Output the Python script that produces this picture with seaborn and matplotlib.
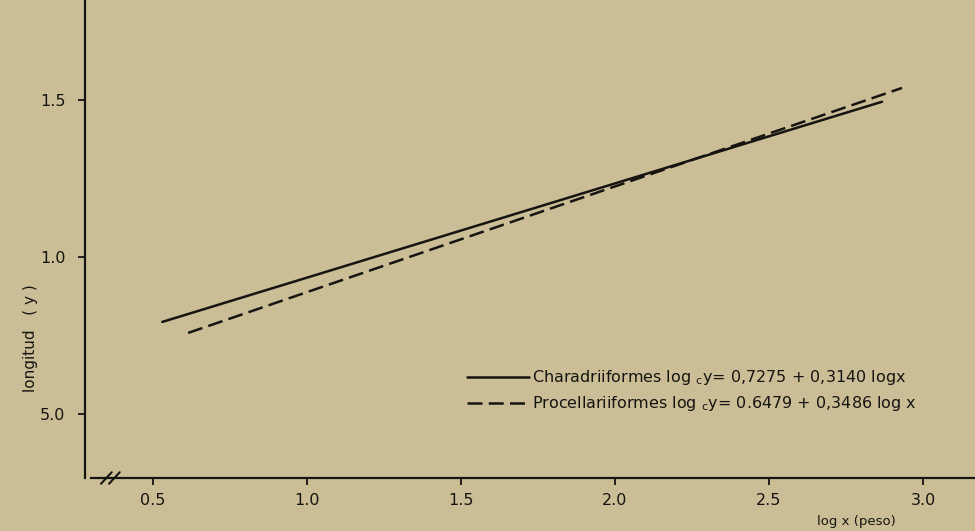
import matplotlib
matplotlib.use("Agg")
import matplotlib.pyplot as plt
import pandas as pd
import seaborn as sns

# endpoints of the two fitted lines
chara_x = [0.53, 2.867]
chara_y = [0.793, 1.494]
proce_x = [0.614, 2.932]
proce_y = [0.758, 1.538]

x_ticks = [0.5, 1.0, 1.5, 2.0, 2.5, 3.0]
x_labels = ["0.5", "1.0", "1.5", "2.0", "2.5", "3.0"]
y_ticks = [0.5, 1.0, 1.5]
y_labels = ["5.0", "1.0", "1.5"]

chara_label = "Charadriiformes log $_{\\mathregular{c}}$y= 0,7275 + 0,3140 logx"
proce_label = "Procellariiformes log $_{\\mathregular{c}}$y= 0.6479 + 0,3486 log x"

PAPER = "#cbbe97"
INK = "#151410"

sns.set_style("ticks")
plt.rcParams["font.family"] = ["DejaVu Sans"]

chara = pd.DataFrame({"x": chara_x, "y": chara_y})
proce = pd.DataFrame({"x": proce_x, "y": proce_y})

fig = plt.figure(figsize=(9.75, 5.31), dpi=100, facecolor=PAPER)
ax = fig.add_axes([85 / 975, 1 - 478 / 531, 890 / 975, 478 / 531])
ax.set_facecolor(PAPER)

sns.lineplot(data=chara, x="x", y="y", ax=ax, color=INK, linewidth=1.8,
             label=chara_label)
sns.lineplot(data=proce, x="x", y="y", ax=ax, color=INK, linewidth=1.8,
             linestyle=(0, (6, 2.5)), label=proce_label)

ax.set_xlim(0.279, 3.169)
ax.set_ylim(0.296, 1.818)
ax.set_xticks(x_ticks, x_labels)
ax.set_yticks(y_ticks, y_labels)
ax.tick_params(axis="both", colors=INK, labelsize=11.5, length=5, width=1.3,
               pad=6)
ax.tick_params(axis="y", pad=9)
ax.set_xlabel("")
ax.set_ylabel("")

for side in ["top", "right"]:
    ax.spines[side].set_visible(False)
for side in ["left", "bottom"]:
    ax.spines[side].set_color(INK)
    ax.spines[side].set_linewidth(1.6)
ax.spines["bottom"].set_bounds(0.297, 3.169)

# axis break marks
for dx in (0.0, 0.009):
    ax.plot([0.018 + dx, 0.03 + dx], [-0.012, 0.012], transform=ax.transAxes,
            color=INK, linewidth=1.5, clip_on=False)

leg = ax.legend(loc="upper left", bbox_to_anchor=(0.413, 0.26),
                frameon=False, handlelength=3.9, handletextpad=0.15,
                fontsize=11.5, labelspacing=0.45)
for t in leg.get_texts():
    t.set_color(INK)

fig.text(30 / 975, 1 - 338 / 531, "longitud   ( y )", rotation=90,
         ha="center", va="center", fontsize=11, color=INK)
fig.text(856 / 975, 1 - 521 / 531, "log x (peso)", ha="center",
         va="center", fontsize=9.5, color=INK)

fig.savefig("out.png", dpi=100, facecolor=PAPER)
